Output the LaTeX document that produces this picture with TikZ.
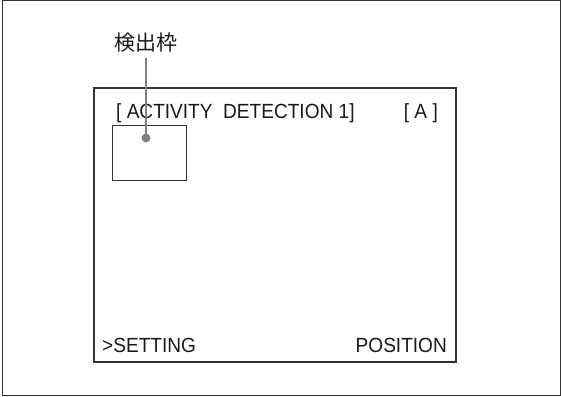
\documentclass[tikz,border=0pt]{standalone}
\usepackage{fontspec}
\setmainfont{Liberation Sans}[FakeStretch=0.93]
\newfontfamily\jpfont{Noto Sans CJK JP}
\usepackage{tikz}
\tikzstyle{screen}=[draw=black!80, line width=1.2pt, inner sep=0pt]
\tikzstyle{osd}=[font=\fontsize{20.5}{20.5}\selectfont, text=black!90, inner sep=0pt]
\tikzstyle{spot}=[circle, fill=black!50, minimum size=9pt, inner sep=0pt]
\tikzstyle{leader}=[draw=black!50, line width=1.2pt]

\begin{document}
\begin{tikzpicture}[x=1pt,y=-1pt]
\useasboundingbox (0,0) rectangle (561,396);
\draw[line width=1pt, black!80] (2,1) rectangle (560,395);
\node[screen, minimum width=362pt, minimum height=274pt] (scr) at (275,225) {};
\node[screen, line width=1pt, minimum width=74pt, minimum height=55pt] (box) at (149,152.5) {};
\node[osd, anchor=base west] (title) at (116,118) {[ ACTIVITY\ \ DETECTION 1]};
\node[osd, anchor=base east] (cam) at (438,118) {[ A ]};
\node[osd, anchor=base west] (set) at (102,352) {>SETTING};
\node[osd, anchor=base east] (pos) at (447,352) {POSITION};
\node[font=\jpfont\fontsize{21}{21}\selectfont, text=black!90, inner sep=6pt] (lbl) at (146,42.5) {検出枠};
\node[spot] (pt) at (146,138) {};
\draw[leader] (pt.center) -- (pt.center |- lbl.south);
\end{tikzpicture}
\end{document}
